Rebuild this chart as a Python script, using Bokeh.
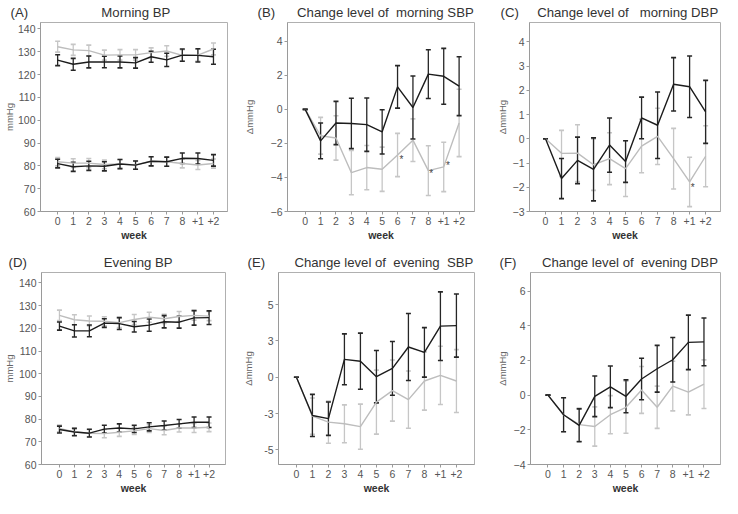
import numpy as np
from bokeh.plotting import figure
from bokeh.models import ColumnDataSource, Whisker, TeeHead, Title, FixedTicker, Range1d
from bokeh.layouts import row, column
from bokeh.embed import file_html
from bokeh.resources import INLINE
from bokeh.core.properties import value

# ---------------- data ----------------
weeks = ["0", "1", "2", "3", "4", "5", "6", "7", "8", "+1", "+2"]

# (A) Morning BP
a_sbp_gray = [132.2, 130.8, 130.5, 128.5, 128.6, 128.6, 129.6, 130.3, 128.4, 128.5, 131.2]
a_sbp_gray_err = [2.4, 2.4, 2.4, 2.2, 2.3, 2.3, 2.1, 2.3, 2.5, 2.6, 2.6]
a_sbp_black = [126.3, 124.5, 125.5, 125.5, 125.5, 125.1, 127.8, 126.4, 128.5, 128.4, 127.8]
a_sbp_black_err = [2.4, 2.6, 2.6, 2.5, 2.6, 2.3, 2.4, 2.9, 2.7, 2.9, 3.3]
a_dbp_gray = [81.8, 81.2, 81.2, 80.6, 80.8, 80.4, 82.0, 81.8, 81.0, 80.4, 81.0]
a_dbp_gray_err = [1.8, 1.9, 2.0, 1.9, 2.0, 1.8, 2.0, 2.0, 1.9, 2.0, 2.0]
a_dbp_black = [81.0, 79.6, 80.0, 79.8, 80.8, 80.3, 82.0, 81.8, 83.3, 83.2, 82.4]
a_dbp_black_err = [1.9, 2.0, 2.0, 2.0, 2.0, 1.8, 2.0, 2.0, 2.3, 2.4, 2.5]

# (B) Change level of morning SBP
b_black = [0, -1.85, -0.8, -0.83, -0.9, -1.32, 1.32, 0.11, 2.07, 1.94, 1.36]
b_black_err = [0, 1.05, 1.27, 1.48, 1.57, 1.3, 1.25, 1.85, 1.43, 1.64, 1.73]
b_gray = [0, -1.55, -1.68, -3.72, -3.42, -3.52, -2.68, -1.81, -3.6, -3.38, -0.8]
b_gray_err = [0, 1.08, 1.3, 1.3, 1.3, 1.3, 1.27, 1.25, 1.46, 1.45, 1.98]
b_star_x = [6.25, 8.18, 9.27]
b_star_y = [-2.94, -3.79, -3.28]

# (C) Change level of morning DBP
c_black = [0, -1.64, -0.89, -1.26, -0.26, -0.94, 0.86, 0.56, 2.25, 2.15, 1.11]
c_black_err = [0, 0.83, 0.96, 1.3, 1.12, 0.86, 0.86, 1.37, 1.1, 1.27, 1.3]
c_gray = [0, -0.6, -0.59, -1.07, -0.82, -1.23, -0.3, 0.1, -0.82, -1.78, -0.72]
c_gray_err = [0, 0.95, 1.17, 1.06, 1.07, 1.15, 1.1, 1.16, 1.25, 1.02, 1.26]
c_star_x = [9.2]
c_star_y = [-2.0]

# (D) Evening BP
d_sbp_gray = [125.7, 123.8, 123.2, 123.1, 122.5, 123.9, 124.9, 124.2, 125.2, 125.7, 125.4]
d_sbp_gray_err = [2.3, 2.2, 2.2, 2.0, 2.2, 2.2, 2.2, 2.0, 2.2, 2.1, 2.0]
d_sbp_black = [121.0, 118.9, 118.9, 122.3, 122.1, 120.7, 121.4, 122.9, 122.7, 124.6, 124.7]
d_sbp_black_err = [1.8, 2.7, 2.6, 1.9, 2.6, 2.3, 2.7, 2.7, 2.6, 3.2, 3.0]
d_dbp_gray = [75.9, 74.4, 73.8, 73.6, 74.2, 74.8, 75.8, 75.0, 76.1, 76.1, 76.4]
d_dbp_gray_err = [1.5, 1.5, 1.6, 1.8, 1.8, 1.6, 1.7, 1.9, 1.8, 2.0, 1.9]
d_dbp_black = [75.4, 74.3, 73.8, 75.6, 76.1, 75.7, 76.6, 77.2, 77.9, 78.6, 78.6]
d_dbp_black_err = [1.5, 1.6, 1.7, 1.7, 1.8, 1.6, 1.8, 2.0, 1.9, 2.3, 2.3]

# (E) Change level of evening SBP
e_black = [0, -2.63, -2.85, 1.23, 1.1, 0.04, 0.61, 2.08, 1.71, 3.51, 3.55]
e_black_err = [0, 1.45, 1.15, 1.75, 1.93, 1.8, 1.85, 2.3, 1.7, 2.36, 2.17]
e_gray = [0, -2.68, -3.09, -3.2, -3.4, -1.71, -0.92, -1.54, -0.26, 0.13, -0.26]
e_gray_err = [0, 1.25, 1.45, 1.3, 1.55, 2.2, 2.1, 1.97, 2.0, 2.0, 2.16]

# (F) Change level of evening DBP
f_black = [0, -1.13, -1.74, -0.07, 0.48, -0.07, 0.93, 1.52, 2.04, 3.04, 3.07]
f_black_err = [0, 0.98, 0.95, 1.17, 1.2, 0.95, 1.2, 1.35, 1.28, 1.57, 1.38]
f_gray = [0, -1.13, -1.7, -1.81, -1.13, -0.7, 0.3, -0.7, 0.52, 0.17, 0.63]
f_gray_err = [0, 0.98, 0.95, 1.13, 1.1, 1.5, 1.35, 1.22, 1.43, 1.31, 1.4]

# ---------------- style ----------------
FONT = "Liberation Sans"
BLACK = "#1c1c1c"
GRAY = "#bdbdbd"
BLACK_BAR = "#262626"
GRAY_BAR = "#c6c6c6"
AXIS = "#9a9a9a"
TICKTXT = "#555555"
TITLE = "#333333"
XPOS = list(range(len(weeks)))
NB = "\u00a0"


def make_fig(fw, fh, bl, br, bt, bb, xr, yr, yticks, ylab, ylab_standoff, yover=None):
    p = figure(width=bl + fw + br, height=bt + fh + bb,
               x_range=Range1d(*xr), y_range=Range1d(*yr),
               output_backend="svg", toolbar_location=None,
               min_border_left=bl, min_border_right=br,
               min_border_top=bt, min_border_bottom=bb)
    p.grid.visible = False
    p.outline_line_color = "#b0b0b0"
    p.outline_line_width = 1
    p.background_fill_color = "white"
    p.border_fill_color = "white"
    for ax in (p.xaxis[0], p.yaxis[0]):
        ax.axis_line_color = AXIS
        ax.major_tick_line_color = AXIS
        ax.major_tick_out = 3
        ax.major_tick_in = 0
        ax.minor_tick_line_color = None
        ax.major_label_text_font = FONT
        ax.major_label_text_font_size = "10.5px"
        ax.major_label_text_color = TICKTXT
        ax.major_label_standoff = 2
    p.xaxis.ticker = FixedTicker(ticks=XPOS)
    p.xaxis.major_label_overrides = {i: w for i, w in enumerate(weeks)}
    p.xaxis.axis_label = "week"
    p.xaxis.axis_label_text_font = FONT
    p.xaxis.axis_label_text_font_size = "10.5px"
    p.xaxis.axis_label_text_font_style = "bold"
    p.xaxis.axis_label_text_color = TITLE
    p.xaxis.axis_label_standoff = 1
    p.yaxis.ticker = FixedTicker(ticks=yticks)
    if yover:
        p.yaxis.major_label_overrides = yover
    p.yaxis.axis_label = ylab
    p.yaxis.axis_label_text_font = FONT
    p.yaxis.axis_label_text_font_size = "9.5px"
    p.yaxis.axis_label_text_font_style = "normal"
    p.yaxis.axis_label_text_color = "#666666"
    p.yaxis.axis_label_standoff = ylab_standoff
    return p


def series(p, y, err, line_c, bar_c):
    up = [v + e for v, e in zip(y, err)]
    lo = [v - e for v, e in zip(y, err)]
    src = ColumnDataSource(dict(x=XPOS, y=y, upper=up, lower=lo))
    p.line("x", "y", source=src, line_color=line_c, line_width=1.4)
    w = Whisker(base="x", upper="upper", lower="lower", source=src,
                line_color=bar_c, line_width=1.3,
                upper_head=TeeHead(size=5, line_color=bar_c, line_width=1.6),
                lower_head=TeeHead(size=5, line_color=bar_c, line_width=1.6))
    p.add_layout(w)


def add_title(p, letter, gap, text, offset):
    t = Title(text=letter + NB * gap + text.replace(" ", NB), align="left", offset=offset,
              text_font=FONT, text_font_size="13.2px", text_font_style="normal",
              text_color=TITLE, standoff=5)
    p.add_layout(t, "above")


def stars(p, xs, ys):
    p.text(xs, ys, text=["*"] * len(xs), text_font=value(FONT),
           text_font_size="10px", text_color="#444444",
           text_align="center", text_baseline="middle")


# (A)
pa = make_fig(193, 191, 34, 13, 20, 39, (-1.1, 10.9), (60, 142.8), list(range(60, 141, 10)), "mmHg", 0)
series(pa, a_sbp_gray, a_sbp_gray_err, GRAY, GRAY_BAR)
series(pa, a_dbp_gray, a_dbp_gray_err, GRAY, GRAY_BAR)
series(pa, a_sbp_black, a_sbp_black_err, BLACK, BLACK_BAR)
series(pa, a_dbp_black, a_dbp_black_err, BLACK, BLACK_BAR)
add_title(pa, "(A)", 20, "Morning BP", -30)

# (B)
pb = make_fig(198, 191, 36, 8, 22, 37, (-1.15, 11.0), (-6, 5.1), [-6, -4, -2, 0, 2, 4], "\u0394mmHg", 13)
series(pb, b_gray, b_gray_err, GRAY, GRAY_BAR)
series(pb, b_black, b_black_err, BLACK, BLACK_BAR)
stars(pb, b_star_x, b_star_y)
add_title(pb, "(B)", 6, "Change level of  morning SBP", -30)

# (C)
pc = make_fig(191, 191, 47, 2, 20, 39, (-1.0, 10.93), (-3, 4.8), list(range(-3, 5)), "\u0394mmHg", 2)
series(pc, c_gray, c_gray_err, GRAY, GRAY_BAR)
series(pc, c_black, c_black_err, BLACK, BLACK_BAR)
stars(pc, c_star_x, c_star_y)
add_title(pc, "(C)", 5, "Change level of   morning DBP", -29)

# (D)
pd_ = make_fig(190, 197, 35, 15, 20, 31, (-1.2, 11.1), (60, 144.6), list(range(60, 141, 10)), "mmHg", 1)
series(pd_, d_sbp_gray, d_sbp_gray_err, GRAY, GRAY_BAR)
series(pd_, d_dbp_gray, d_dbp_gray_err, GRAY, GRAY_BAR)
series(pd_, d_sbp_black, d_sbp_black_err, BLACK, BLACK_BAR)
series(pd_, d_dbp_black, d_dbp_black_err, BLACK, BLACK_BAR)
add_title(pd_, "(D)", 21, "Evening BP", -33)

# (E)
pe = make_fig(197, 197, 37, 8, 20, 31, (-1.12, 11.13), (-6, 7.2), [-5, -2.5, 0, 2.5, 5], "\u0394mmHg", 7,
              {2.5: "3", -2.5: "-3", 5: "5", -5: "-5", 0: "0"})
series(pe, e_gray, e_gray_err, GRAY, GRAY_BAR)
series(pe, e_black, e_black_err, BLACK, BLACK_BAR)
add_title(pe, "(E)", 8, "Change level of  evening  SBP", -31)

# (F)
pf = make_fig(190, 195, 48, 2, 19, 34, (-1.12, 11.06), (-4, 7.07), [-4, -2, 0, 2, 4, 6], "\u0394mmHg", 3)
series(pf, f_gray, f_gray_err, GRAY, GRAY_BAR)
series(pf, f_black, f_black_err, BLACK, BLACK_BAR)
add_title(pf, "(F)", 7, "Change level of  evening DBP", -31)

layout = column(row(pa, pb, pc), row(pd_, pe, pf))

open("out.html", "w").write(file_html(layout, INLINE))
